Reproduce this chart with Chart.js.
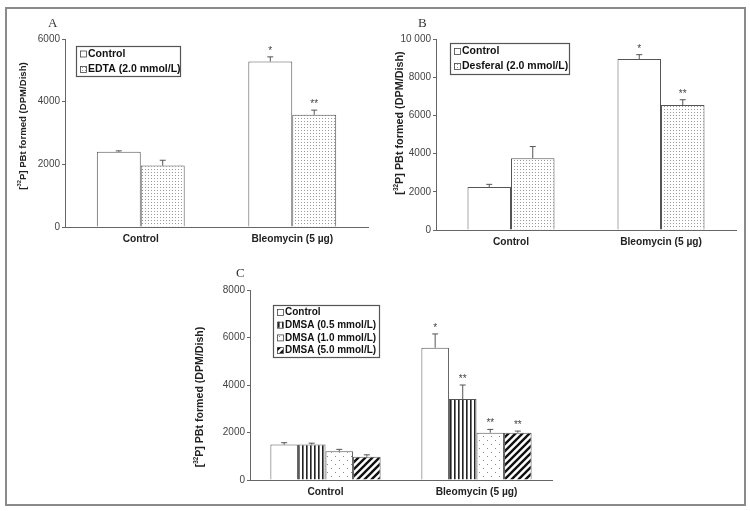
<!DOCTYPE html>
<html>
<head>
<meta charset="utf-8">
<script src="https://cdn.jsdelivr.net/npm/chart.js@4.4.1/dist/chart.umd.min.js"></script>
<style>
  body { margin: 0; background: #fff; width: 750px; height: 511px; position: relative; overflow: hidden; }
  #frame { position: absolute; left: 5px; top: 7px; width: 741px; height: 499px; border: 2px solid #8a8a8a; box-sizing: border-box; }
  .panel { position: absolute; }
  .tag { position: absolute; font-family: "Liberation Serif", "DejaVu Serif", serif; font-size: 13px; color: #333; }
</style>
</head>
<body>
<div id="frame"></div>
<canvas id="chartA" class="panel" style="left:0;top:0"></canvas>
<canvas id="chartB" class="panel" style="left:375px;top:0"></canvas>
<canvas id="chartC" class="panel" style="left:190px;top:255px"></canvas>
<div class="tag" style="left:48px;top:15px">A</div>
<div class="tag" style="left:418px;top:15px">B</div>
<div class="tag" style="left:236px;top:265px">C</div>
<script>
// categories
const groups = ['Control', 'Bleomycin (5 µg)'];

// panel A
const aTicks = [0, 2000, 4000, 6000];
const aControl = [2400, 5280];
const aControlSd = [30, 150];
const aEdta = [1960, 3580];
const aEdtaSd = [170, 150];
const aStars = [['', '*'], ['', '**']];

// panel B
const bTicks = [0, 2000, 4000, 6000, 8000, 10000];
const bControl = [2250, 8950];
const bControlSd = [140, 230];
const bDesferal = [3760, 6540];
const bDesferalSd = [610, 280];
const bStars = [['', '*'], ['', '**']];

// panel C
const cTicks = [0, 2000, 4000, 6000, 8000];
const cControl = [1490, 5570];
const cControlSd = [80, 580];
const cDmsa05 = [1490, 3410];
const cDmsa05Sd = [60, 590];
const cDmsa10 = [1210, 1990];
const cDmsa10Sd = [80, 140];
const cDmsa50 = [980, 1990];
const cDmsa50Sd = [80, 70];
const cStars = [['', '*'], ['', '**'], ['', '**'], ['', '**']];

const FONT = '"Liberation Sans", Arial, sans-serif';

function makePattern(kind) {
  const c = document.createElement('canvas');
  const g = c.getContext('2d');
  if (kind === 'stipple') {
    c.width = 3; c.height = 3;
    g.fillStyle = '#fff'; g.fillRect(0, 0, 3, 3);
    g.fillStyle = '#9a9a9a'; g.fillRect(1, 1, 1, 1);
  } else if (kind === 'vstripe') {
    c.width = 4; c.height = 4;
    g.fillStyle = '#fff'; g.fillRect(0, 0, 4, 4);
    g.fillStyle = '#222'; g.fillRect(0, 0, 1, 4);
    g.fillStyle = '#777'; g.fillRect(1, 0, 1, 4);
  } else if (kind === 'sparse') {
    c.width = 8; c.height = 8;
    g.fillStyle = '#fff'; g.fillRect(0, 0, 8, 8);
    g.fillStyle = '#888';
    g.fillRect(1, 1, 1, 1);
    g.fillRect(5, 5, 1, 1);
  } else if (kind === 'diag') {
    c.width = 7; c.height = 7;
    g.fillStyle = '#fff'; g.fillRect(0, 0, 7, 7);
    g.strokeStyle = '#111'; g.lineWidth = 2.4;
    g.beginPath();
    g.moveTo(-1, 8); g.lineTo(8, -1);
    g.moveTo(-4.5, 4.5); g.lineTo(4.5, -4.5);
    g.moveTo(2.5, 11.5); g.lineTo(11.5, 2.5);
    g.stroke();
  }
  return g.createPattern(c, 'repeat');
}

// error bars + significance stars
const errorBarPlugin = {
  id: 'errbars',
  afterDatasetsDraw(chart, args, opts) {
    const ctx = chart.ctx;
    const y = chart.scales.y;
    ctx.save();
    chart.data.datasets.forEach((ds, i) => {
      const meta = chart.getDatasetMeta(i);
      meta.data.forEach((bar, j) => {
        const top = y.getPixelForValue(ds.data[j] + opts.sd[i][j]);
        ctx.strokeStyle = '#555';
        ctx.lineWidth = 1;
        ctx.beginPath();
        ctx.moveTo(bar.x, bar.y);
        ctx.lineTo(bar.x, top);
        ctx.moveTo(bar.x - 3, top);
        ctx.lineTo(bar.x + 3, top);
        ctx.stroke();
        const s = opts.stars[i][j];
        if (s) {
          ctx.fillStyle = '#444';
          ctx.font = '10px ' + FONT;
          ctx.textAlign = 'center';
          ctx.textBaseline = 'alphabetic';
          ctx.fillText(s, bar.x, top - 3);
        }
      });
    });
    ctx.restore();
  }
};

// boxed legend with small swatches
const boxLegendPlugin = {
  id: 'boxlegend',
  afterDraw(chart, args, opts) {
    const ctx = chart.ctx;
    ctx.save();
    ctx.strokeStyle = '#555';
    ctx.lineWidth = 1.2;
    ctx.strokeRect(opts.x + 0.5, opts.y + 0.5, opts.w, opts.h);
    ctx.font = 'bold ' + opts.fontSize + 'px ' + FONT;
    ctx.textBaseline = 'middle';
    ctx.textAlign = 'left';
    chart.data.datasets.forEach((ds, i) => {
      const cy = opts.y + opts.first + i * opts.step;
      ctx.fillStyle = ds.backgroundColor;
      ctx.fillRect(opts.x + 4, cy - 3, 6, 6);
      ctx.strokeStyle = '#444';
      ctx.lineWidth = 0.8;
      ctx.strokeRect(opts.x + 4.5, cy - 2.5, 6, 6);
      ctx.fillStyle = '#111';
      ctx.fillText(ds.label, opts.x + 12, cy + 0.5);
    });
    ctx.restore();
  }
};

// y axis title with superscript 32
const yTitlePlugin = {
  id: 'ytitle',
  afterDraw(chart, args, opts) {
    const ctx = chart.ctx;
    const fs = opts.fontSize;
    const big = 'bold ' + fs + 'px ' + FONT;
    const small = 'bold ' + (fs * 0.6) + 'px ' + FONT;
    const parts = [['[', big, 0], ['32', small, -fs * 0.38], ['P] PBt formed (DPM/Dish)', big, 0]];
    ctx.save();
    let total = 0;
    parts.forEach(p => { ctx.font = p[1]; total += ctx.measureText(p[0]).width; });
    ctx.translate(opts.x, opts.cy);
    ctx.rotate(-Math.PI / 2);
    ctx.fillStyle = '#222';
    ctx.textBaseline = 'middle';
    ctx.textAlign = 'left';
    let x = -total / 2;
    parts.forEach(p => {
      ctx.font = p[1];
      ctx.fillText(p[0], x, p[2]);
      x += ctx.measureText(p[0]).width;
    });
    ctx.restore();
  }
};

function buildChart(id, w, h, box, ticks, datasets, sd, stars, legend, title) {
  const cv = document.getElementById(id);
  cv.width = w; cv.height = h;
  cv.style.width = w + 'px'; cv.style.height = h + 'px';
  return new Chart(cv, {
    type: 'bar',
    data: { labels: groups, datasets: datasets },
    options: {
      responsive: false,
      animation: false,
      devicePixelRatio: 1,
      layout: { padding: { left: box.padLeft || 0, top: box.top, right: w - box.right, bottom: h - box.bottom - 25 } },
      datasets: { bar: { barPercentage: 1, categoryPercentage: box.cat, borderColor: '#555', borderWidth: 1 } },
      plugins: {
        legend: { display: false },
        tooltip: { enabled: false },
        errbars: { sd: sd, stars: stars },
        boxlegend: legend,
        ytitle: title
      },
      scales: {
        x: {
          afterFit: s => { s.height = 25; },
          grid: { display: false, drawTicks: false },
          border: { display: true, color: '#666', width: 1 },
          ticks: { color: '#222', font: { family: FONT, size: 10.2, weight: 'bold' }, padding: 6 }
        },
        y: {
          min: ticks[0],
          max: ticks[ticks.length - 1],
          afterFit: s => { s.width = box.left - (box.padLeft || 0); },
          afterBuildTicks: s => { s.ticks = ticks.map(v => ({ value: v })); },
          grid: { drawOnChartArea: false, drawTicks: true, tickLength: 3, color: '#666' },
          border: { display: true, color: '#666', width: 1 },
          ticks: {
            color: '#444',
            font: { family: FONT, size: 10 },
            padding: 2,
            callback: v => (v === 10000 ? '10 000' : String(v))
          }
        }
      }
    },
    plugins: [errorBarPlugin, boxLegendPlugin, yTitlePlugin]
  });
}

const pat = {
  white: '#ffffff',
  stipple: makePattern('stipple'),
  vstripe: makePattern('vstripe'),
  sparse: makePattern('sparse'),
  diag: makePattern('diag')
};

buildChart('chartA', 380, 258,
  { left: 65, right: 368, top: 39, bottom: 227, cat: 0.58 },
  aTicks,
  [
    { label: 'Control', data: aControl, backgroundColor: pat.white },
    { label: 'EDTA (2.0 mmol/L)', data: aEdta, backgroundColor: pat.stipple }
  ],
  [aControlSd, aEdtaSd], aStars,
  { x: 76, y: 46, w: 104, h: 30, first: 7.5, step: 15.5, fontSize: 10.5 },
  { x: 23, cy: 126, fontSize: 9.6 }
);

buildChart('chartB', 375, 258,
  { left: 61, right: 361, top: 39, bottom: 230, cat: 0.58 },
  bTicks,
  [
    { label: 'Control', data: bControl, backgroundColor: pat.white },
    { label: 'Desferal (2.0 mmol/L)', data: bDesferal, backgroundColor: pat.stipple }
  ],
  [bControlSd, bDesferalSd], bStars,
  { x: 75, y: 43, w: 119, h: 31, first: 8, step: 15, fontSize: 10.5 },
  { x: 25, cy: 123, fontSize: 10.8 }
);

buildChart('chartC', 370, 250,
  { left: 60, right: 362, top: 35, bottom: 225, cat: 0.73 },
  cTicks,
  [
    { label: 'Control', data: cControl, backgroundColor: pat.white },
    { label: 'DMSA (0.5 mmol/L)', data: cDmsa05, backgroundColor: pat.vstripe },
    { label: 'DMSA (1.0 mmol/L)', data: cDmsa10, backgroundColor: pat.sparse },
    { label: 'DMSA (5.0 mmol/L)', data: cDmsa50, backgroundColor: pat.diag }
  ],
  [cControlSd, cDmsa05Sd, cDmsa10Sd, cDmsa50Sd], cStars,
  { x: 83, y: 50, w: 106, h: 52, first: 7, step: 12.7, fontSize: 10 },
  { x: 10, cy: 142, fontSize: 10.6 }
);
</script>
</body>
</html>
